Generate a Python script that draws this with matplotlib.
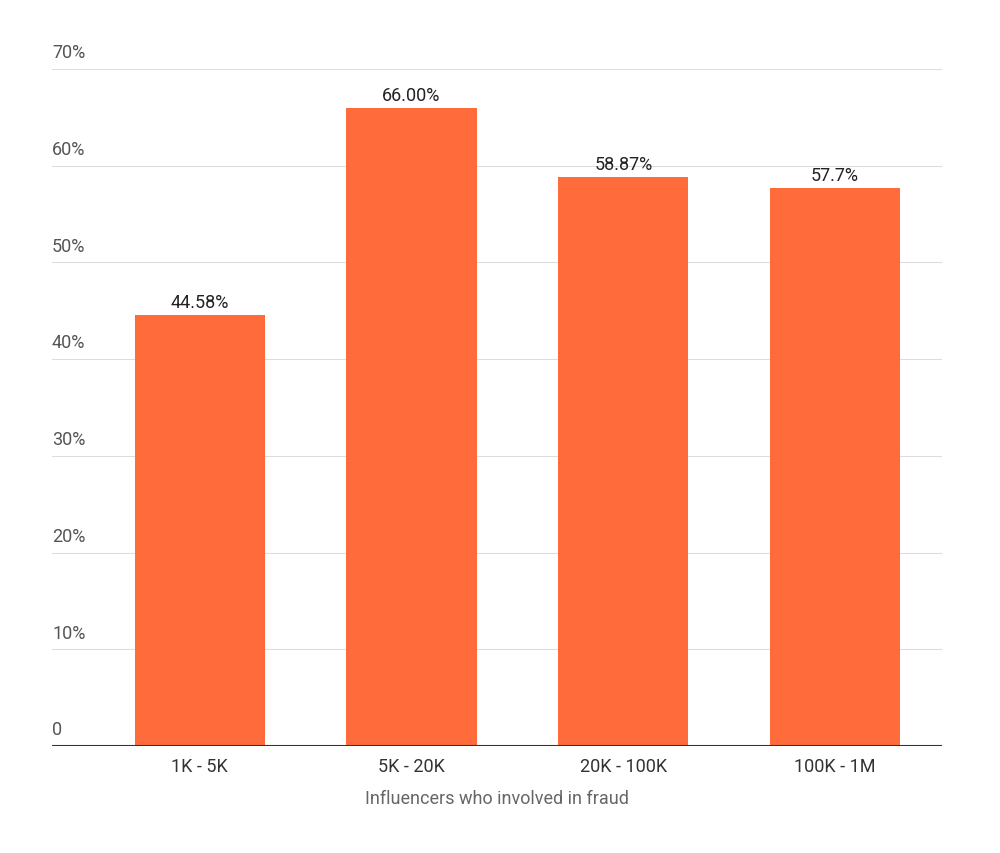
import matplotlib.pyplot as plt

categories = ['1K - 5K', '5K - 20K', '20K - 100K', '100K - 1M']
values = [44.58, 66.00, 58.87, 57.7]
value_labels = ['44.58%', '66.00%', '58.87%', '57.7%']
yticks = [0, 10, 20, 30, 40, 50, 60, 70]
ytick_labels = ['0', '10%', '20%', '30%', '40%', '50%', '60%', '70%']

plt.rcParams['font.family'] = ['Roboto', 'DejaVu Sans']

fig = plt.figure(figsize=(10, 8.54), dpi=100)
ax = fig.add_axes([0.052, 0.1253, 0.89, 0.7927])

x = list(range(len(categories)))
ax.bar(x, values, width=0.615, color='#FF6B3A', zorder=2)
for xi, v, lab in zip(x, values, value_labels):
    ax.text(xi, v + 0.4, lab, ha='center', va='bottom', fontsize=13, color='#222222')

ax.set_xlim(-0.698, 3.505)
ax.set_ylim(0, 70)
for t, lab in zip(yticks, ytick_labels):
    if t > 0:
        ax.axhline(t, color='#dddddd', linewidth=0.8, zorder=1)
    ax.text(0.0, t + 0.8, lab, transform=ax.get_yaxis_transform(),
            ha='left', va='bottom', fontsize=13, color='#555555')
ax.axhline(0, color='#333333', linewidth=1.5, zorder=3)

ax.set_yticks([])
ax.set_xticks(x)
ax.set_xticklabels(categories, fontsize=13, color='#333333')
ax.tick_params(axis='x', length=0, pad=8)
ax.set_xlabel('Influencers who involved in fraud', fontsize=13, color='#666666', labelpad=10)
for s in ax.spines.values():
    s.set_visible(False)

fig.savefig('out.png', dpi=100, facecolor='white')
